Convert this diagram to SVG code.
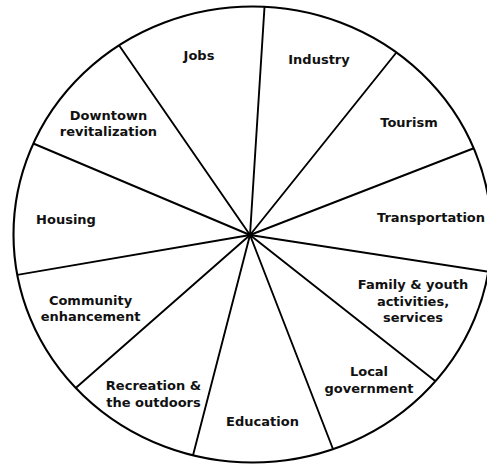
<svg xmlns="http://www.w3.org/2000/svg" width="487" height="464" viewBox="0 0 487 464">
<defs>
<clipPath id="inside"><ellipse cx="252.5" cy="234.5" rx="239" ry="228"/></clipPath>
</defs>
<style>
.ln{stroke:#000;stroke-width:1.9;fill:none;stroke-linecap:round}
.rim{stroke:#000;stroke-width:2.1;fill:none}
text{font-family:"DejaVu Sans","Liberation Sans",sans-serif;font-weight:bold;font-size:13px;fill:#111;text-anchor:middle}
</style>
<rect width="487" height="464" fill="#fff"/>
<g id="spokes" clip-path="url(#inside)">
<line class="ln" x1="250" y1="235" x2="265.2" y2="-4"/>
<line class="ln" x1="250" y1="235" x2="404" y2="43"/>
<line class="ln" x1="250" y1="235" x2="486" y2="143.5"/>
<line class="ln" x1="250" y1="235" x2="497" y2="273"/>
<line class="ln" x1="250" y1="235" x2="446" y2="389.5"/>
<line class="ln" x1="250" y1="235" x2="338" y2="462"/>
<line class="ln" x1="250" y1="235" x2="190.5" y2="465"/>
<line class="ln" x1="250" y1="235" x2="70" y2="393"/>
<line class="ln" x1="250" y1="235" x2="8" y2="276.5"/>
<line class="ln" x1="250" y1="235" x2="25" y2="140"/>
<line class="ln" x1="250" y1="235" x2="114" y2="38"/>
</g>
<ellipse id="wheel" class="rim" cx="252.5" cy="234.5" rx="239" ry="228"/>
<g id="jobs"><text x="199" y="60">Jobs</text></g>
<g id="industry"><text x="319" y="63.5">Industry</text></g>
<g id="tourism"><text x="409" y="127">Tourism</text></g>
<g id="transportation"><text x="431" y="222">Transportation</text></g>
<g id="family"><text x="413" y="289">Family &amp; youth</text><text x="413" y="305.5">activities,</text><text x="413" y="322">services</text></g>
<g id="local"><text x="369" y="376">Local</text><text x="369" y="392.5">government</text></g>
<g id="education"><text x="262.5" y="426">Education</text></g>
<g id="recreation"><text x="153.5" y="390">Recreation &amp;</text><text x="153.5" y="407">the outdoors</text></g>
<g id="community"><text x="90.5" y="304.5">Community</text><text x="90.5" y="321">enhancement</text></g>
<g id="housing"><text x="66" y="224">Housing</text></g>
<g id="downtown"><text x="108.5" y="119.5">Downtown</text><text x="108.5" y="136">revitalization</text></g>
</svg>
